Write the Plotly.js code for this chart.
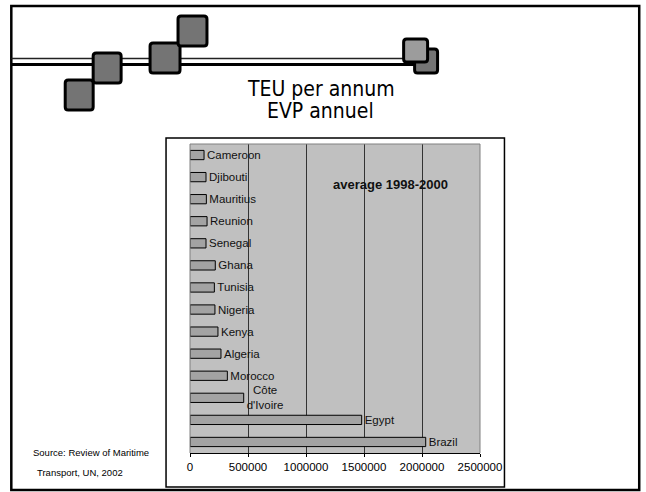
<!DOCTYPE html>
<html>
<head>
<meta charset="utf-8">
<script src="https://cdn.plot.ly/plotly-3.0.1.min.js"></script>
<style>
  html, body { margin: 0; padding: 0; background: #ffffff; }
  #chart { width: 646px; height: 492px; }
</style>
</head>
<body>
<div id="chart"></div>
<script>
// Container traffic, average 1998-2000 (TEU per annum)
const countries = ['Cameroon', 'Djibouti', 'Mauritius', 'Reunion', 'Senegal', 'Ghana', 'Tunisia',
                   'Nigeria', 'Kenya', 'Algeria', 'Morocco', "Côte d'Ivoire", 'Egypt', 'Brazil'];
const barLabels = ['Cameroon', 'Djibouti', 'Mauritius', 'Reunion', 'Senegal', 'Ghana', 'Tunisia',
                   'Nigeria', 'Kenya', 'Algeria', 'Morocco', "Côte<br>d'Ivoire", 'Egypt', 'Brazil'];
const teu = [121000, 138000, 141000, 147000, 138000, 218000, 210000,
             215000, 241000, 267000, 322000, 463000, 1480000, 2032000];
const xTicks = [0, 500000, 1000000, 1500000, 2000000, 2500000];

// plot area in pixels
const L = 190, R = 480.5, T = 144, B = 453;
const W = 646, H = 492;
const px = x => (x - L) / (R - L);
const py = y => (B - y) / (B - T);

function roundRect(x0, y0, x1, y1, r) {
  const p = (x, y) => px(x) + ',' + py(y);
  return 'M' + p(x0 + r, y0) + ' L' + p(x1 - r, y0) + ' Q' + p(x1, y0) + ' ' + p(x1, y0 + r) +
         ' L' + p(x1, y1 - r) + ' Q' + p(x1, y1) + ' ' + p(x1 - r, y1) +
         ' L' + p(x0 + r, y1) + ' Q' + p(x0, y1) + ' ' + p(x0, y1 - r) +
         ' L' + p(x0, y0 + r) + ' Q' + p(x0, y0) + ' ' + p(x0 + r, y0) + ' Z';
}

function square(x0, y0, x1, y1, fill) {
  return { type: 'path', xref: 'paper', yref: 'paper', path: roundRect(x0, y0, x1, y1, 3),
           fillcolor: fill, line: { color: '#000000', width: 3 }, layer: 'above' };
}

function hline(x0, x1, y, w, c) {
  return { type: 'line', xref: 'paper', yref: 'paper', x0: px(x0), x1: px(x1), y0: py(y), y1: py(y),
           line: { color: c, width: w }, layer: 'above' };
}

const shapes = [
  // slide frame
  { type: 'rect', xref: 'paper', yref: 'paper', x0: px(11), x1: px(640), y0: py(6), y1: py(490),
    line: { color: '#000000', width: 2.5 }, layer: 'below' },
  // chart box
  { type: 'rect', xref: 'paper', yref: 'paper', x0: px(166), x1: px(505), y0: py(138), y1: py(487),
    line: { color: '#000000', width: 1.5 }, layer: 'below' },
  // plot area border (left, top, right)
  { type: 'path', xref: 'paper', yref: 'paper',
    path: 'M0,0 L0,1 L1,1 L1,0', line: { color: '#808080', width: 1 }, layer: 'above' },
  // double rule
  hline(11, 416, 58.5, 1.5, '#222222'),
  hline(11, 416, 64.5, 3, '#000000'),
  // squares
  square(65, 80, 93, 110, '#747474'),
  square(93, 53, 121, 83, '#747474'),
  square(150, 43, 180, 73, '#747474'),
  square(178, 16, 207, 46, '#747474'),
  square(415, 49, 438, 73, '#747474'),
  square(404, 39, 428, 62, '#9c9c9c')
];

const annotations = [
  { text: 'TEU per annum', xref: 'paper', yref: 'paper', x: px(321), y: py(89),
    xanchor: 'center', yanchor: 'middle', showarrow: false,
    font: { family: 'DejaVu Sans Condensed, DejaVu Sans, sans-serif', size: 21, color: '#000000' } },
  { text: 'EVP annuel', xref: 'paper', yref: 'paper', x: px(321), y: py(111),
    xanchor: 'center', yanchor: 'middle', showarrow: false,
    font: { family: 'DejaVu Sans Condensed, DejaVu Sans, sans-serif', size: 21, color: '#000000' } },
  { text: '<b>average 1998-2000</b>', xref: 'paper', yref: 'paper', x: px(391), y: py(184),
    xanchor: 'center', yanchor: 'middle', showarrow: false,
    font: { family: 'Liberation Sans, Arial, sans-serif', size: 13, color: '#111111' } },
  { text: 'Source: Review of Maritime', xref: 'paper', yref: 'paper', x: px(31), y: py(452.7),
    xanchor: 'left', yanchor: 'middle', showarrow: false,
    font: { family: 'Liberation Sans, Arial, sans-serif', size: 9.5, color: '#000000' } },
  { text: 'Transport, UN, 2002', xref: 'paper', yref: 'paper', x: px(34.5), y: py(472.3),
    xanchor: 'left', yanchor: 'middle', showarrow: false,
    font: { family: 'Liberation Sans, Arial, sans-serif', size: 9.5, color: '#000000' } }
];

const trace = {
  type: 'bar',
  orientation: 'h',
  y: countries,
  x: teu,
  text: barLabels,
  textposition: 'outside',
  constraintext: 'none',
  cliponaxis: false,
  textfont: { family: 'Liberation Sans, Arial, sans-serif', size: 11.5, color: '#111111' },
  marker: { color: '#a3a3a3', line: { color: '#000000', width: 1 } },
  hoverinfo: 'none'
};

const layout = {
  width: W,
  height: H,
  margin: { l: L, r: W - R, t: T, b: H - B, pad: 0 },
  paper_bgcolor: '#ffffff',
  plot_bgcolor: '#c0c0c0',
  showlegend: false,
  bargap: 0.58,
  font: { family: 'Liberation Sans, Arial, sans-serif', color: '#000000' },
  xaxis: {
    range: [0, 2500000],
    tickvals: xTicks,
    ticktext: xTicks.map(String),
    showgrid: true,
    gridcolor: '#333333',
    gridwidth: 1,
    zeroline: false,
    showline: true,
    linecolor: '#000000',
    linewidth: 1,
    ticks: 'outside',
    ticklen: 3,
    tickcolor: '#000000',
    tickfont: { size: 11.5, color: '#000000' },
    fixedrange: true
  },
  yaxis: {
    type: 'category',
    autorange: 'reversed',
    showticklabels: false,
    showgrid: false,
    zeroline: false,
    showline: false,
    ticks: '',
    fixedrange: true
  },
  shapes: shapes,
  annotations: annotations
};

Plotly.newPlot('chart', [trace], layout, { staticPlot: true, displayModeBar: false });
</script>
</body>
</html>
